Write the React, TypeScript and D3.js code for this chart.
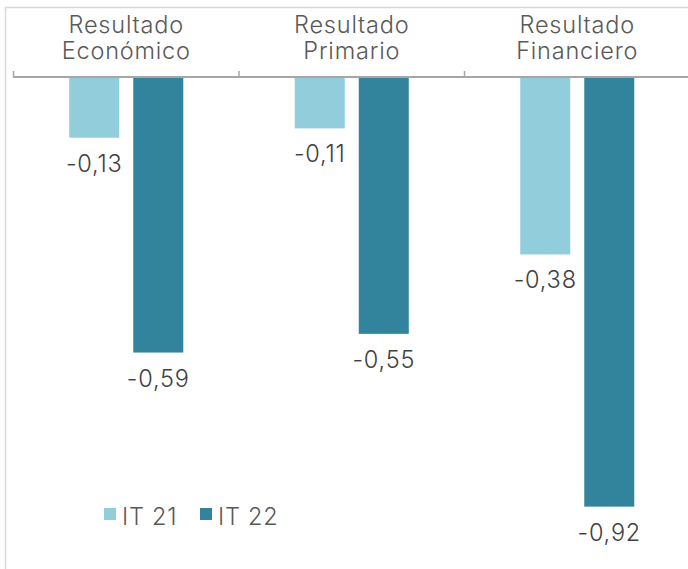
import React from "react";
import * as d3 from "d3";

const categories = [["Resultado", "Económico"], ["Resultado", "Primario"], ["Resultado", "Financiero"]];
const seriesNames = ["IT 21", "IT 22"];
const it21 = [-0.13, -0.11, -0.38];
const it22 = [-0.59, -0.55, -0.92];
const colors = ["#92CDDC", "#31849B"];

export default function App() {
  const W = 688, H = 569;
  const font = "Inter, 'Open Sans', sans-serif";
  const x = d3.scaleBand<number>().domain([0, 1, 2]).range([13.5, 13.5 + 225.5 * 3]).paddingInner(0).paddingOuter(0);
  const xs = d3.scaleBand<number>().domain([0, 1]).range([0, x.bandwidth()]).paddingInner(0.219).paddingOuter(0.87);
  const y = d3.scaleLinear().domain([0, -1]).range([77, 77 + 467]);
  const series = [it21, it22];
  const fmt = (v: number) => v.toFixed(2).replace(".", ",");
  const ts = { fontFamily: font, fontSize: 23.5, fontWeight: 300, letterSpacing: 0.8 } as any;
  return (
    <svg width={W} height={H} style={{ position: "absolute", left: 0, top: 0, background: "#fff" }}>
      <rect x={5.5} y={7.5} width={W} height={H} fill="none" stroke="#D9D9D9" strokeWidth={1.5} />
      {categories.map((c, i) => (
        <text key={"c" + i} textAnchor="middle" fill="#595959" style={ts}>
          <tspan x={(x(i) as number) + x.bandwidth() / 2} y={33}>{c[0]}</tspan>
          <tspan x={(x(i) as number) + x.bandwidth() / 2} y={59}>{c[1]}</tspan>
        </text>
      ))}
      {series.map((s, si) =>
        s.map((v, i) => {
          const bx = (x(i) as number) + (xs(si) as number);
          return (
            <g key={si + "-" + i}>
              <rect x={bx} y={y(0)} width={xs.bandwidth()} height={y(v) - y(0)} fill={colors[si]} />
              <text x={bx + xs.bandwidth() / 2} y={y(v) + 34} textAnchor="middle" fill="#404040" style={ts}>{fmt(v)}</text>
            </g>
          );
        })
      )}
      <line x1={13} x2={W} y1={77} y2={77} stroke="#A6A6A6" strokeWidth={2} />
      {[0, 1, 2, 3].map((i) => {
        const tx = 13.5 + 225.5 * i;
        return <line key={"t" + i} x1={tx} x2={tx} y1={71} y2={77} stroke="#A6A6A6" strokeWidth={1.5} />;
      })}
      {seriesNames.map((n, si) => (
        <g key={"l" + si} transform={`translate(${104 + si * 96},0)`}>
          <rect x={0} y={508} width={12} height={12} fill={colors[si]} />
          <text x={18} y={525} fill="#595959" style={ts}>{n}</text>
        </g>
      ))}
    </svg>
  );
}
